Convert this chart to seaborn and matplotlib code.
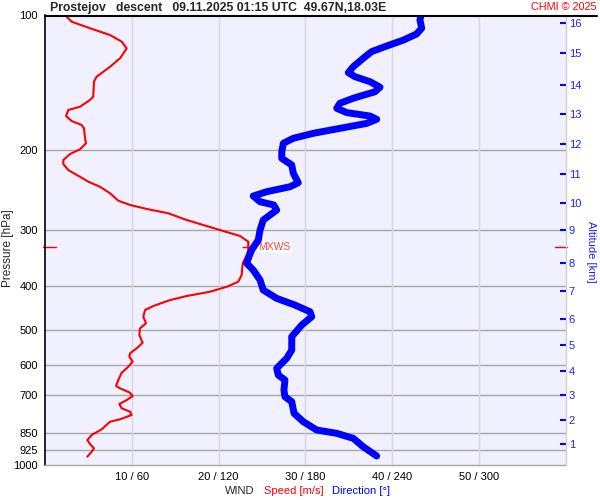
import numpy as np
import pandas as pd
import matplotlib
matplotlib.use("Agg")
import matplotlib.pyplot as plt
from matplotlib.lines import Line2D
import seaborn as sns

# Wind speed profile [m/s] vs pressure [hPa]
speed_p = [100, 103.5, 107.0, 110.8, 114.6, 118.6, 124.8, 130.3, 137.1, 140.7,
           151.9, 154.5, 159.9, 162.6, 167.7, 172.0, 175.6, 178.6, 187.9, 192.8,
           198.8, 203.7, 210.0, 214.4, 221.1, 228.8, 234.7, 240.8, 249.0, 258.6,
           264.3, 269.8, 275.8, 285.5, 291.4, 300.5, 309.8, 319.0, 332.8, 341.5,
           356.3, 378.3, 391.5, 401.7, 412.1, 421.2, 430.0, 443.4, 452.5, 468.3,
           484.4, 496.9, 514.2, 535.0, 548.9, 564.8, 574.6, 589.5, 604.8, 623.6,
           647.3, 667.5, 675.5, 690.8, 702.6, 717.1, 731.8, 748.2, 761.3, 774.3,
           791.5, 801.3, 833.0, 857.6, 880.0, 898.2, 918.3, 934.2, 958.5]
speed = [2.30, 3.07, 5.18, 7.49, 8.83, 9.41, 8.64, 7.49, 5.95, 5.64,
         5.56, 5.18, 4.03, 2.68, 2.42, 3.07, 4.23, 4.49, 4.61, 4.72,
         4.03, 2.88, 2.11, 2.11, 2.68, 4.03, 4.99, 6.33, 7.49, 8.44,
         9.79, 11.71, 14.20, 16.32, 17.85, 20.15, 22.46, 23.41, 23.41, 23.23,
         22.77, 22.65, 22.26, 20.93, 19.00, 16.32, 14.40, 12.47, 11.52, 11.32,
         11.63, 10.94, 10.86, 11.25, 10.63, 9.79, 9.71, 10.10, 9.59, 8.83,
         8.44, 8.18, 8.64, 9.79, 10.10, 9.41, 8.56, 8.83, 9.79, 9.98,
         8.64, 7.49, 6.53, 5.38, 4.87, 5.18, 5.64, 5.38, 4.87]

# Wind direction profile [deg] vs pressure [hPa]
dir_p = [100, 102.6, 107.0, 110.2, 113.7, 117.2, 120.6, 124.8, 130.3, 134.3,
         137.1, 140.7, 144.7, 148.1, 153.1, 157.1, 161.2, 164.8, 167.7, 170.5,
         174.1, 178.6, 183.2, 187.9, 192.8, 201.3, 208.2, 215.4, 224.8, 235.9,
         240.8, 247.0, 252.5, 260.0, 264.3, 271.3, 285.5, 300.5, 316.2, 332.8,
         347.2, 356.3, 368.8, 388.1, 408.5, 426.3, 441.1, 456.5, 468.3, 488.6,
         518.7, 555.3, 579.4, 609.7, 631.0, 647.3, 681.3, 705.0, 723.3, 767.7,
         801.3, 836.0, 850.4, 872.5, 910.8, 955.0]
direction = [259.8, 259.1, 260.3, 256.8, 247.6, 236.1, 225.7, 219.9, 213.0, 209.6,
             214.2, 224.6, 231.5, 228.0, 213.0, 203.8, 201.6, 208.5, 224.6, 229.2,
             222.3, 203.8, 185.4, 171.6, 164.7, 163.6, 163.6, 170.5, 171.6, 175.0,
             169.3, 153.2, 143.9, 148.6, 158.0, 160.1, 150.8, 148.6, 147.4, 142.8,
             140.5, 139.4, 143.9, 148.6, 150.8, 160.1, 172.7, 183.1, 184.3, 177.4,
             170.5, 170.5, 167.0, 160.1, 161.2, 165.8, 165.1, 165.8, 170.5, 172.1,
             178.5, 187.7, 201.6, 213.0, 219.9, 229.2]

# Max wind level
mxws_speed = 23.4
mxws_p = 328

# Axis ticks
p_ticks = [100, 200, 300, 400, 500, 600, 700, 850, 925, 1000]
x_ticks = [10, 20, 30, 40, 50]
x_labels = ["10 / 60", "20 / 120", "30 / 180", "40 / 240", "50 / 300"]
alt_km = list(range(1, 17))
alt_p = [899.5, 795.7, 700, 618, 542, 474, 410, 355.7, 300.4, 261.7,
         225.3, 193.5, 166, 142.9, 121.5, 104]

sns.set_theme(style="white")
plt.rcParams['font.family'] = ['Liberation Sans', 'DejaVu Sans']

fig = plt.figure(figsize=(6, 5), dpi=100, facecolor="white")
ax = fig.add_axes([0.075, 0.07, 0.8683, 0.90])
ax.set_facecolor("#f0f0ff")
ax.set_yscale("log")

spd = pd.DataFrame({"speed": speed, "p": speed_p})
drc = pd.DataFrame({"dir": direction, "p": dir_p})

sns.lineplot(data=spd, x="speed", y="p", sort=False, estimator=None,
             color="#ff0000", lw=1.5, ax=ax, zorder=3)
ax.set_xlim(0, 60)
ax.set_ylim(1000, 100)

# grid
for p in p_ticks[1:-1]:
    ax.axhline(p, color="#a8a8a8", lw=1, zorder=1)
for x in x_ticks:
    ax.axvline(x, color="#d8d8d8", lw=1, zorder=1)

ax.set_yticks(p_ticks)
ax.set_yticklabels([str(p) for p in p_ticks])
ax.yaxis.set_minor_locator(matplotlib.ticker.NullLocator())
ax.set_xticks(x_ticks)
ax.set_xticklabels(x_labels)
ax.tick_params(axis="both", length=0, labelsize=8, colors="black")
ax.tick_params(axis="y", pad=5)
ax.tick_params(axis="x", pad=5)
ax.set_xlabel("")
ax.set_ylabel("")
ax.grid(False)

for s in ["top", "right"]:
    ax.spines[s].set_visible(False)
ax.spines["left"].set_color("black")
ax.spines["left"].set_linewidth(1.2)
ax.spines["bottom"].set_color("#a8a8a8")
ax.spines["bottom"].set_linewidth(1)

# max wind marker
ax.plot([mxws_speed], [mxws_p], marker="+", color="#ff0000", ms=9, mew=1, zorder=5)
ax.text(mxws_speed + 1.2, mxws_p, "MXWS", color="#ff4040", fontsize=7.5,
        va="center", ha="left", zorder=6,
        bbox=dict(facecolor="white", edgecolor="none", pad=0.5))
ax.plot([-0.004, 0.021], [mxws_p, mxws_p], color="#ff0000", lw=1,
        transform=ax.get_yaxis_transform(), clip_on=False)
ax.plot([0.979, 1.002], [mxws_p, mxws_p], color="#ff0000", lw=1,
        transform=ax.get_yaxis_transform(), clip_on=False)

# direction on a twin x axis
ax_dir = ax.twiny()
sns.lineplot(data=drc, x="dir", y="p", sort=False, estimator=None,
             color="#0000ff", lw=5, ax=ax_dir, zorder=4)
ax_dir.set_xlim(0, 360)
ax_dir.set_ylim(1000, 100)
ax_dir.set_xticks([])
ax_dir.set_xlabel("")
ax_dir.set_ylabel("")
for s in ax_dir.spines.values():
    s.set_visible(False)

# altitude axis
ax_alt = ax.twinx()
ax_alt.set_yscale("log")
ax_alt.set_ylim(1000, 100)
ax_alt.set_yticks(alt_p)
ax_alt.set_yticklabels([str(a) for a in alt_km])
ax_alt.yaxis.set_minor_locator(matplotlib.ticker.NullLocator())
ax_alt.tick_params(axis="y", direction="in", length=4.5, width=1.5,
                   color="#0000ff", labelcolor="#2020ff", labelsize=8, pad=2)
ax_alt.grid(False)
for s in ["top", "left", "bottom"]:
    ax_alt.spines[s].set_visible(False)
ax_alt.spines["right"].set_color("#d0d0d0")
ax_alt.spines["right"].set_linewidth(1)

# title line and texts
fig.add_artist(Line2D([45 / 600, 597 / 600], [1 - 16 / 500, 1 - 16 / 500],
                      color="black", lw=1.5))
fig.text(50 / 600, 1 - 7.5 / 500,
         "Prostejov   descent   09.11.2025 01:15 UTC  49.67N,18.03E",
         ha="left", va="center", fontsize=8.8, fontweight="bold")
fig.text(597 / 600, 1 - 7.5 / 500, "CHMI © 2025", ha="right", va="center",
         fontsize=7.8, color="#ff0000")
fig.text(8 / 600, 1 - 248 / 500, "Pressure [hPa]", rotation=90,
         ha="center", va="center", fontsize=8.5)
fig.text(591 / 600, 1 - 252 / 500, "Altitude [km]", rotation=-90,
         ha="center", va="center", fontsize=8, color="#2020ff")
fig.text(225 / 600, 1 - 491 / 500, "WIND", ha="left", va="center", fontsize=8)
fig.text(264 / 600, 1 - 491 / 500, "Speed [m/s]", ha="left", va="center",
         fontsize=8, color="#ff0000")
fig.text(332 / 600, 1 - 491 / 500, "Direction [°]", ha="left", va="center",
         fontsize=8, color="#0000ff")

fig.savefig("out.png", dpi=100, facecolor=fig.get_facecolor())
